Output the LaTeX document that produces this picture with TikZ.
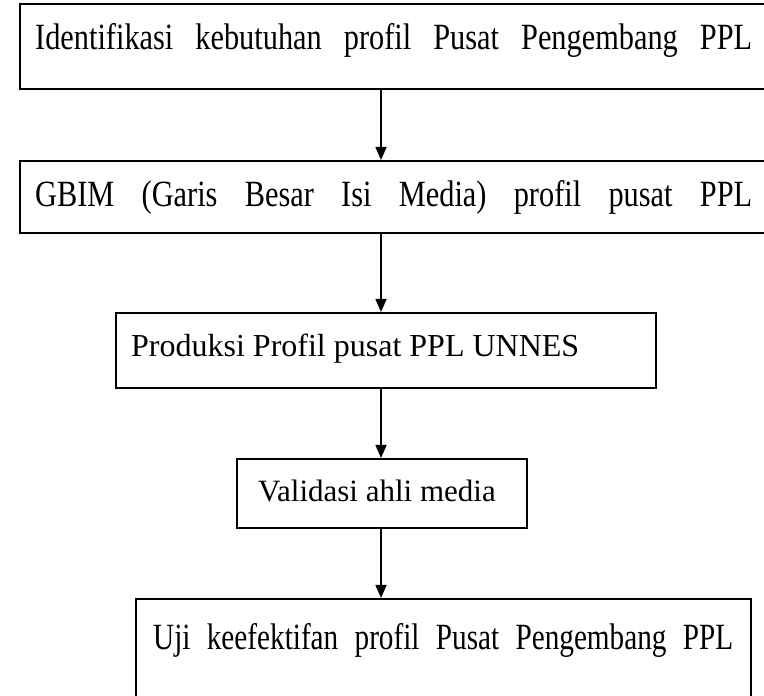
\documentclass[tikz,border=0pt]{standalone}
\usepackage{fontspec}
\setmainfont{Liberation Serif}
\newfontfamily\reffont[FakeStretch=0.82]{Liberation Serif}
\newfontfamily\reffontb[FakeStretch=0.79]{Liberation Serif}
\usetikzlibrary{arrows.meta}
\tikzset{
  box/.style={draw=black, line width=1.6pt, rectangle, inner sep=0pt, anchor=north west},
  lbl/.style={inner sep=0pt, anchor=base west, font=\reffont\fontsize{37pt}{40pt}\selectfont},
  lblb/.style={inner sep=0pt, anchor=base west, font=\reffontb\fontsize{37pt}{40pt}\selectfont},
  lbln/.style={inner sep=0pt, anchor=base west, font=\fontsize{32pt}{36pt}\selectfont},
  arr/.style={line width=1.6pt, -{Triangle[length=13pt,width=11pt]}}
}
\begin{document}
\begin{tikzpicture}[x=1pt,y=1pt]
\clip (0,0) rectangle (764,696);
% boxes (north west corner, size)
\node[box, minimum width=751pt, minimum height=85pt] (b1) at (19,693) {};
\node[box, minimum width=751pt, minimum height=72pt] (b2) at (19,536) {};
\node[box, minimum width=540pt, minimum height=75pt] (b3) at (115,384) {};
\node[box, minimum width=290pt, minimum height=69pt] (b4) at (236,238) {};
\node[box, minimum width=615pt, minimum height=104pt] (b5) at (135,98) {};
% texts
\node[lbl] (t1) at (35,646) {\makebox[717pt][s]{Identifikasi kebutuhan profil Pusat Pengembang PPL}};
\node[lbl] (t2) at (35,489) {\makebox[717pt][s]{GBIM (Garis Besar Isi Media) profil pusat PPL}};
\node[lbln] (t3) at (131,339) {Produksi Profil pusat PPL UNNES};
\node[lbln, font=\fontsize{31pt}{35pt}\selectfont] (t4) at (258,194) {Validasi ahli media};
\node[lblb] (t5) at (153,46) {\makebox[580pt][s]{Uji keefektifan profil Pusat Pengembang PPL}};
% arrows
\coordinate (ax) at (381,0);
\draw[arr] (b1.south -| ax) -- (b2.north -| ax);
\draw[arr] (b2.south -| ax) -- (b3.north -| ax);
\draw[arr] (b3.south -| ax) -- (b4.north -| ax);
\draw[arr] (b4.south -| ax) -- (b5.north -| ax);
\end{tikzpicture}
\end{document}
